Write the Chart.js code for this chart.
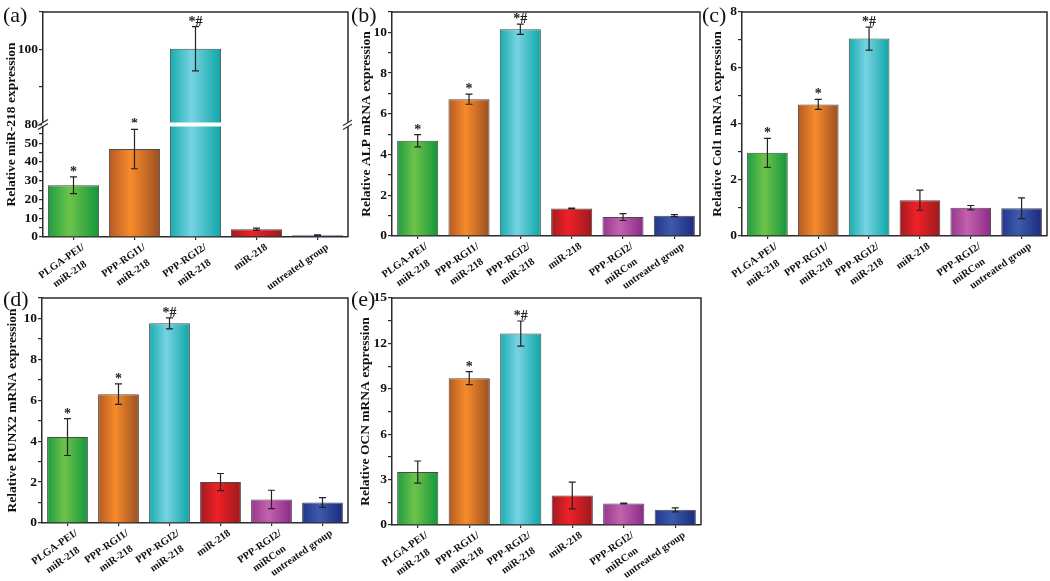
<!DOCTYPE html>
<html>
<head>
<meta charset="utf-8">
<script src="https://cdn.jsdelivr.net/npm/chart.js@4.4.1/dist/chart.umd.min.js"></script>
<style>
html,body{margin:0;padding:0;background:#fff;width:1050px;height:581px;overflow:hidden;position:relative}
canvas{position:absolute}
</style>
</head>
<body>
<canvas id="ca"></canvas>
<canvas id="cb"></canvas>
<canvas id="cc"></canvas>
<canvas id="cd"></canvas>
<canvas id="ce"></canvas>
<script>
// ---------------- data ----------------
const labelsA = [["PLGA-PEI/", "miR-218"], ["PPP-RGI1/", "miR-218"], ["PPP-RGI2/", "miR-218"], "miR-218", "untreated group"];
const labelsSix = [["PLGA-PEI/", "miR-218"], ["PPP-RGI1/", "miR-218"], ["PPP-RGI2/", "miR-218"], "miR-218", ["PPP-RGI2/", "miRCon"], "untreated group"];

const mirValues = [27.6, 46.9, 100.2, 4.1, 1.0];
const mirErrors = [4.5, 10.5, 5.9, 0.6, 0.2];
const mirMarks = ["*", "*", "*#", "", ""];

const alpValues = [4.68, 6.72, 10.15, 1.35, 0.93, 1.0];
const alpErrors = [0.3, 0.25, 0.25, 0.02, 0.17, 0.05];
const alpMarks = ["*", "*", "*#", "", "", ""];

const col1Values = [2.97, 4.70, 7.05, 1.28, 1.01, 0.99];
const col1Errors = [0.52, 0.18, 0.41, 0.36, 0.08, 0.37];
const col1Marks = ["*", "*", "*#", "", "", ""];

const runx2Values = [4.2, 6.3, 9.76, 2.0, 1.15, 1.0];
const runx2Errors = [0.9, 0.5, 0.27, 0.42, 0.45, 0.24];
const runx2Marks = ["*", "*", "*#", "", "", ""];

const ocnValues = [3.5, 9.7, 12.65, 1.95, 1.42, 1.0];
const ocnErrors = [0.73, 0.43, 0.83, 0.88, 0.03, 0.13];
const ocnMarks = ["", "*", "*#", "", "", ""];

const mirTicksLow = [0, 10, 20, 30, 40, 50];
const mirTicksHigh = [80, 100];
const alpTicks = [0, 2, 4, 6, 8, 10];
const col1Ticks = [0, 2, 4, 6, 8];
const runx2Ticks = [0, 2, 4, 6, 8, 10];
const ocnTicks = [0, 3, 6, 9, 12, 15];

const mirBreak = { lowMax: 60, highMin: 80, highMax: 110 };

// ---------------- styles ----------------
const FONT = '"Liberation Serif", "Times New Roman", serif';
const AXIS = '#2b2b2b';
const GREEN = ['#1e9c42', '#6ec34a', '#12963c'];
const ORANGE = ['#b35a24', '#f78b2b', '#9a4f22'];
const CYAN = ['#17acae', '#76d3e2', '#0fa6a6'];
const RED = ['#a11b20', '#ef2127', '#9b191d'];
const MAGENTA = ['#97378f', '#c362ad', '#8b2a88'];
const BLUE = ['#22358c', '#3d5bab', '#1b2a7f'];
const colorsA = [GREEN, ORANGE, CYAN, RED, BLUE];
const colorsSix = [GREEN, ORANGE, CYAN, RED, MAGENTA, BLUE];

const Y_W = 44, X_H = 64, EXTRA_H = 84, PAD_T = 14, PAD_R = 4;
const XFONT = { family: FONT, size: 10.5, weight: 'bold', lineHeight: 1.45 };

// centre the second line of a two-line rotated label under the first one
const measureCtx = document.createElement('canvas').getContext('2d');
function centredLabel(lab) {
  if (!Array.isArray(lab) || lab.length < 2) return lab;
  measureCtx.font = 'bold ' + XFONT.size + 'px ' + FONT;
  const w1 = measureCtx.measureText(lab[0]).width;
  const w2 = measureCtx.measureText(lab[1]).width;
  const sp = measureCtx.measureText(' ').width;
  const k = Math.max(0, Math.round((w1 - w2) / 2 / sp));
  return [lab[0], lab[1] + ' '.repeat(k)];
}

function isLabelled(list, v) {
  return list.find(t => Math.abs(t - v) < 1e-6);
}

function yScale(min, max, step, labelled, extra) {
  return Object.assign({
    type: 'linear', position: 'left', min: min, max: max,
    afterFit: s => { s.width = Y_W; },
    border: { display: true, color: AXIS, width: 1.5 },
    grid: { drawOnChartArea: false, drawTicks: true, tickLength: 4, color: AXIS, lineWidth: 1.2 },
    ticks: {
      stepSize: step, autoSkip: false, padding: 1, color: '#111',
      font: { family: FONT, size: 13.5, weight: 'bold' },
      callback: v => { const t = isLabelled(labelled, v); return t === undefined ? '' : String(t); }
    }
  }, extra || {});
}

function makePanel(p) {
  const cv = document.getElementById(p.id);
  const left = p.box.l - Y_W, top = p.box.t - PAD_T;
  const W = p.box.r - left + PAD_R, H = p.box.b - top + EXTRA_H;
  cv.width = W; cv.height = H;
  cv.style.left = left + 'px'; cv.style.top = top + 'px';
  cv.style.width = W + 'px'; cv.style.height = H + 'px';
  const n = p.labels.length;

  const bg = (ctx) => {
    const chart = ctx.chart;
    const xs = chart.scales.x;
    const c = p.colors[ctx.dataIndex] || p.colors[0];
    if (!xs || ctx.dataIndex === undefined) return c[1];
    const cx = xs.getPixelForValue(ctx.dataIndex);
    const w = (xs.right - xs.left) / n * p.barPct;
    if (!isFinite(cx) || !isFinite(w) || w <= 0) return c[1];
    const g = chart.ctx.createLinearGradient(cx - w / 2, 0, cx + w / 2, 0);
    g.addColorStop(0, c[0]); g.addColorStop(0.42, c[1]); g.addColorStop(1, c[2]);
    return g;
  };

  const barStyle = {
    backgroundColor: bg, borderColor: '#4a4a4a', borderWidth: 1,
    barPercentage: p.barPct, categoryPercentage: 1, grouped: false
  };

  let datasets, scales;
  const xScale = {
    type: 'category', offset: true,
    afterFit: s => { s.height = X_H; },
    border: { display: true, color: AXIS, width: 1.5 },
    grid: { display: true, drawOnChartArea: false, offset: false, tickLength: 3, color: AXIS, lineWidth: 1.2 },
    ticks: {
      autoSkip: false, minRotation: 35, maxRotation: 35, padding: 0, labelOffset: p.labelOffset, color: '#111',
      font: XFONT,
      callback: function (v) { return centredLabel(this.getLabelForValue(v)); }
    }
  };

  if (p.brk) {
    const lowData = p.values.map(v => Math.min(v, p.brk.lowMax));
    const highData = p.values.map(v => v > p.brk.highMin ? [p.brk.highMin, v] : null);
    datasets = [
      Object.assign({ data: lowData, yAxisID: 'yLow' }, barStyle),
      Object.assign({ data: highData, yAxisID: 'yHigh' }, barStyle)
    ];
    scales = {
      x: xScale,
      yLow: yScale(0, p.brk.lowMax, 5, p.ticksLow, { stack: 'brk', stackWeight: 1 }),
      yHigh: yScale(p.brk.highMin, p.brk.highMax, 10, p.ticksHigh, { stack: 'brk', stackWeight: 1 })
    };
  } else {
    datasets = [Object.assign({ data: p.values, yAxisID: 'y' }, barStyle)];
    scales = { x: xScale, y: yScale(p.min, p.max, p.step, p.ticks) };
  }

  const scaleFor = (chart, v) => {
    if (p.brk) return v > p.brk.highMin ? chart.scales.yHigh : chart.scales.yLow;
    return chart.scales.y;
  };

  const decor = {
    id: 'decor' + p.id,
    afterDatasetsDraw(chart) {
      const c = chart.ctx, xs = chart.scales.x;
      c.save();
      c.strokeStyle = '#222'; c.lineWidth = 1.2;
      p.values.forEach((v, i) => {
        const e = p.errors[i];
        const ys = scaleFor(chart, v);
        const x = xs.getPixelForValue(i);
        const yt = ys.getPixelForValue(v + e), yb = ys.getPixelForValue(v - e);
        c.beginPath();
        c.moveTo(x, yt); c.lineTo(x, yb);
        c.moveTo(x - 3.5, yt); c.lineTo(x + 3.5, yt);
        c.moveTo(x - 3.5, yb); c.lineTo(x + 3.5, yb);
        c.stroke();
        if (p.marks[i]) {
          c.fillStyle = '#222';
          c.font = 'bold 14px ' + FONT;
          c.textAlign = 'center'; c.textBaseline = 'alphabetic';
          c.fillText(p.marks[i], x, yt - 1);
        }
      });
      c.restore();
    },
    afterDraw(chart) {
      const c = chart.ctx, a = chart.chartArea;
      c.save();
      c.strokeStyle = AXIS; c.lineWidth = 1.5;
      if (p.brk) {
        const mid = chart.scales.yLow.top;
        c.fillStyle = '#fff';
        c.fillRect(a.left - 1, mid - 2, a.right - a.left + 2.5, 4);
        c.beginPath();
        c.moveTo(a.left, a.top); c.lineTo(a.right, a.top);
        c.lineTo(a.right, mid - 2);
        c.moveTo(a.right, mid + 2); c.lineTo(a.right, a.bottom);
        c.stroke();
        c.lineWidth = 1.2;
        [a.left, a.right].forEach(x => {
          c.beginPath();
          c.moveTo(x - 5, mid + 1); c.lineTo(x + 5, mid - 5);
          c.moveTo(x - 5, mid + 5); c.lineTo(x + 5, mid - 1);
          c.stroke();
        });
      } else {
        c.beginPath();
        c.moveTo(a.left, a.top); c.lineTo(a.right, a.top); c.lineTo(a.right, a.bottom);
        c.stroke();
      }
      // axis title
      c.fillStyle = '#111';
      c.font = 'bold 13.5px ' + FONT;
      c.textAlign = 'center'; c.textBaseline = 'middle';
      c.translate(a.left - p.titleOffset, (a.top + a.bottom) / 2);
      c.rotate(-Math.PI / 2);
      c.fillText(p.title, 0, 0);
      c.restore();
      // panel letter
      c.save();
      c.fillStyle = '#111';
      c.font = '22px ' + FONT;
      c.textAlign = 'left'; c.textBaseline = 'alphabetic';
      c.fillText(p.letter, p.letterPos[0] - left, p.letterPos[1] - top);
      c.restore();
    }
  };

  return new Chart(cv, {
    type: 'bar',
    data: { labels: p.labels, datasets: datasets },
    options: {
      responsive: false, animation: false, devicePixelRatio: 1,
      layout: { padding: { top: PAD_T, right: PAD_R, left: 0, bottom: EXTRA_H - X_H } },
      plugins: { legend: { display: false }, tooltip: { enabled: false } },
      scales: scales
    },
    plugins: [decor]
  });
}

makePanel({
  id: 'ca', box: { l: 43, t: 12, r: 348, b: 237 }, labels: labelsA,
  values: mirValues, errors: mirErrors, marks: mirMarks,
  brk: mirBreak, ticksLow: mirTicksLow, ticksHigh: mirTicksHigh,
  colors: colorsA, barPct: 0.84, title: 'Relative miR-218 expression', titleOffset: 31,
  letter: '(a)', letterPos: [3, 22], labelOffset: 10
});
makePanel({
  id: 'cb', box: { l: 392, t: 12, r: 700, b: 236 }, labels: labelsSix,
  values: alpValues, errors: alpErrors, marks: alpMarks,
  min: 0, max: 11, step: 1, ticks: alpTicks,
  colors: colorsSix, barPct: 0.8, title: 'Relative ALP mRNA expression', titleOffset: 25,
  letter: '(b)', letterPos: [351, 22], labelOffset: 9
});
makePanel({
  id: 'cc', box: { l: 742, t: 12, r: 1047, b: 236 }, labels: labelsSix,
  values: col1Values, errors: col1Errors, marks: col1Marks,
  min: 0, max: 8, step: 1, ticks: col1Ticks,
  colors: colorsSix, barPct: 0.8, title: 'Relative Col1 mRNA expression', titleOffset: 24,
  letter: '(c)', letterPos: [702, 22], labelOffset: 9
});
makePanel({
  id: 'cd', box: { l: 42, t: 298, r: 348, b: 523 }, labels: labelsSix,
  values: runx2Values, errors: runx2Errors, marks: runx2Marks,
  min: 0, max: 11, step: 1, ticks: runx2Ticks,
  colors: colorsSix, barPct: 0.8, title: 'Relative RUNX2 mRNA expression', titleOffset: 29,
  letter: '(d)', letterPos: [3, 306], labelOffset: 9
});
makePanel({
  id: 'ce', box: { l: 392, t: 298, r: 701, b: 525 }, labels: labelsSix,
  values: ocnValues, errors: ocnErrors, marks: ocnMarks,
  min: 0, max: 15, step: 1.5, ticks: ocnTicks,
  colors: colorsSix, barPct: 0.8, title: 'Relative OCN mRNA expression', titleOffset: 26,
  letter: '(e)', letterPos: [351, 306], labelOffset: 9
});
</script>
</body>
</html>
